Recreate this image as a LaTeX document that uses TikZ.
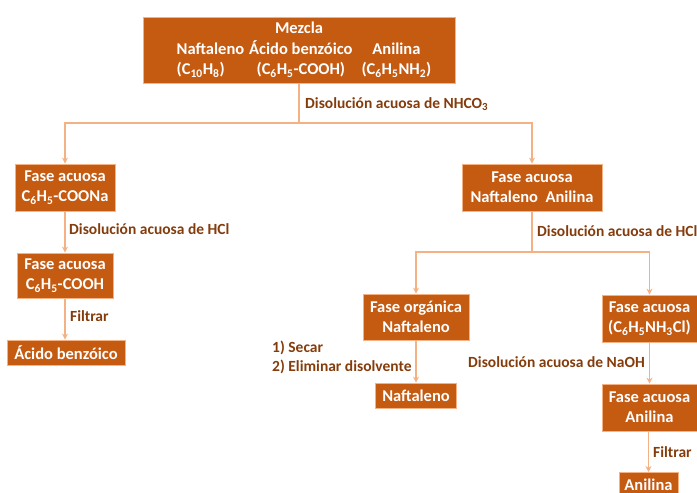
\documentclass[tikz,border=0pt]{standalone}
\usepackage{fontspec}
\setmainfont{Carlito}
\usetikzlibrary{arrows.meta}
\definecolor{boxfill}{HTML}{C55A11}
\definecolor{lncol}{HTML}{F4B183}
\definecolor{lblcol}{HTML}{843C0C}
\newcommand{\sbs}[1]{\textsubscript{#1}}
\tikzset{
  stepbox/.style={draw=lncol, line width=0.8pt, fill=boxfill, text=white,
    font=\fontsize{16.5}{20}\selectfont\bfseries, align=center, inner sep=0pt},
  lbl/.style={text=lblcol, font=\fontsize{15.5}{19}\selectfont\bfseries, anchor=west, inner sep=0pt, align=left},
  ln/.style={draw=lncol, line width=1.6pt},
  arr/.style={ln, -{Stealth[length=6pt,width=6pt]}}
}
\begin{document}
\begin{tikzpicture}[x=1pt,y=-1pt]
\useasboundingbox (0,0) rectangle (697,493);
% boxes
\node[stepbox, minimum width=312, minimum height=66, font=\fontsize{16.5}{20.5}\selectfont\bfseries] (top) at (299,50)
  {\begin{tabular}{@{\hspace{10pt}}l@{\hspace{5pt}}c@{\hspace{9pt}}c@{}}
   \multicolumn{3}{c}{Mezcla}\\
   Naftaleno & Ácido benzóico & Anilina\\
   (C\sbs{10}H\sbs{8}) & (C\sbs{6}H\sbs{5}-COOH) & (C\sbs{6}H\sbs{5}NH\sbs{2})
   \end{tabular}};
\node[stepbox, minimum width=100, minimum height=47] (L1) at (65,187.5) {Fase acuosa\\C\sbs{6}H\sbs{5}-COONa};
\node[stepbox, minimum width=96, minimum height=45] (L2) at (65,275.5) {Fase acuosa\\C\sbs{6}H\sbs{5}-COOH};
\node[stepbox, minimum width=118, minimum height=25] (L3) at (66,352.5) {Ácido benzóico};
\node[stepbox, minimum width=140, minimum height=47] (R1) at (532,187.5) {Fase acuosa\\Naftaleno\ \ Anilina};
\node[stepbox, minimum width=106, minimum height=46] (O1) at (416,317) {Fase orgánica\\Naftaleno};
\node[stepbox, minimum width=81, minimum height=25] (N) at (416,395.5) {Naftaleno};
\node[stepbox, minimum width=95, minimum height=47] (A1) at (649.5,318.5) {Fase acuosa\\(C\sbs{6}H\sbs{5}NH\sbs{3}Cl)};
\node[stepbox, minimum width=95, minimum height=47] (A2) at (649.5,407.5) {Fase acuosa\\Anilina};
\node[stepbox, minimum width=59, minimum height=25, anchor=north] (A3) at (648.5,472) {Anilina};
% junctions
\coordinate (j1) at (299,123);
\coordinate (j2) at (532,252);
% connectors
\draw[ln] (top.south) -- (j1);
\draw[arr] (j1) -| (L1.north);
\draw[arr] (j1) -| (R1.north);
\draw[arr] (L1) -- (L2);
\draw[arr] (L2.south) -- (L2.south |- L3.north);
\draw[ln] (R1.south) -- (j2);
\draw[arr] (j2) -| (O1.north);
\draw[arr] (j2) -| (A1.north);
\draw[arr] (O1) -- (N);
\draw[arr] (A1) -- (A2);
\draw[arr] (A2.south -| A3.north) -- (A3.north);
% labels
\node[lbl] (t1) at (305,104) {Disolución acuosa de NHCO\sbs{3}};
\node[lbl] (t2) at (69,229) {Disolución acuosa de HCl};
\node[lbl] (t3) at (70,316) {Filtrar};
\node[lbl] (t4) at (537,231) {Disolución acuosa de HCl};
\node[lbl] (t5) at (272,357.5) {1) Secar\\2) Eliminar disolvente};
\node[lbl] (t6) at (468,362) {Disolución acuosa de NaOH};
\node[lbl] (t7) at (653,452) {Filtrar};
\end{tikzpicture}
\end{document}
